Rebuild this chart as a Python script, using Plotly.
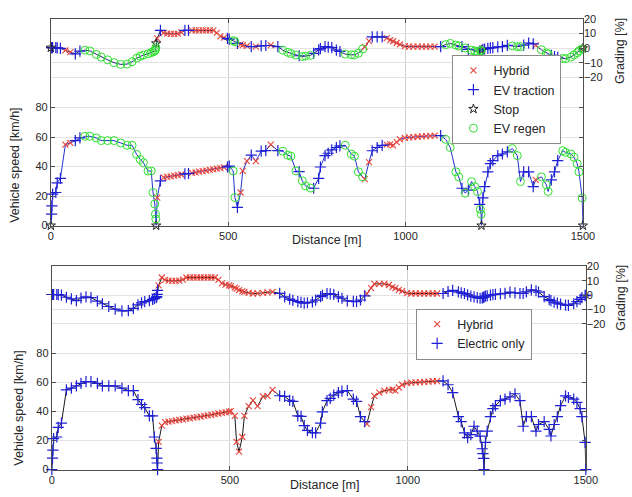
import plotly.graph_objects as go

# ---------------- data ----------------
distance = [0, 2, 3, 5, 14, 18, 27, 41, 55, 69, 82, 96, 110, 128, 142, 160, 178, 197, 215, 229,
            242, 252, 261, 274, 283, 288, 293, 295, 296, 297, 300, 309, 318, 328, 338, 348, 358, 368,
            378, 388, 398, 408, 418, 428, 438, 448, 458, 468, 478, 488, 498, 503, 514, 519, 526, 535,
            541, 553, 565, 578, 593, 606, 620, 640, 654, 668, 677, 691, 700, 709, 718, 732, 741, 755,
            760, 773, 782, 792, 805, 815, 830, 847, 856, 867, 879, 885, 897, 906, 920, 934, 947, 957,
            965, 975, 984, 998, 1010, 1022, 1034, 1046, 1058, 1070, 1082, 1099, 1113, 1126, 1142,
            1150, 1159, 1168, 1177, 1186, 1195, 1203, 1209, 1211, 1213, 1214, 1218, 1223, 1232, 1239,
            1246, 1260, 1273, 1287, 1301, 1315, 1324, 1333, 1347, 1360, 1367, 1383, 1397, 1402, 1411,
            1420, 1429, 1443, 1451, 1466, 1475, 1484, 1489, 1498, 1500]
speed = [0.0, 7.8, 13.4, 21.3, 22.4, 29.0, 32.0, 54.9, 56.0, 57.6, 59.4, 60.5, 60.5, 59.4, 57.6,
         57.6, 57.6, 56.0, 54.4, 54.4, 48.2, 44.8, 42.6, 37.0, 37.0, 22.4, 14.6, 7.8, 4.5, 0.0, 19.0,
         30.3, 32.7, 33.0, 33.4, 33.8, 34.2, 34.6, 35.0, 35.3, 35.7, 36.1, 36.5, 36.9, 37.3, 37.7,
         38.1, 38.6, 39.0, 39.4, 39.8, 40.3, 37.0, 19.0, 12.3, 22.4, 37.0, 43.7, 47.7, 43.7, 50.4,
         50.8, 54.9, 50.8, 50.4, 47.7, 47.0, 37.0, 36.6, 30.3, 26.9, 25.4, 25.3, 32.0, 39.7, 47.4,
         49.0, 51.3, 52.9, 54.0, 54.4, 48.5, 47.0, 36.4, 33.0, 31.5, 43.0, 50.7, 52.9, 54.4, 54.8,
         55.0, 54.4, 56.5, 58.4, 59.5, 59.8, 60.0, 60.2, 60.4, 60.6, 60.8, 60.9, 61.0, 58.4, 52.9,
         36.4, 33.0, 25.3, 22.0, 24.0, 29.8, 26.4, 23.0, 14.3, 11.0, 7.7, 0.0, 18.7, 26.4, 36.4,
         42.0, 44.0, 47.4, 48.5, 50.0, 52.2, 47.4, 29.8, 36.4, 36.4, 26.4, 31.0, 33.0, 27.6, 23.1,
         31.0, 36.4, 44.0, 50.7, 49.6, 48.5, 46.3, 41.9, 36.4, 18.7, 0.0]
grading = [0.4, 0.4, 0.4, 0.4, 0.4, 0.3, 0.0, -1.5, -2.6, -3.8, -2.0, -1.3, -1.8, -4.2, -6.0, -7.9,
           -9.8, -11.0, -10.8, -9.2, -6.8, -5.4, -4.6, -3.8, -3.0, -2.4, -1.8, -1.0, 0.5, 3.3, 6.7,
           12.2, 10.5, 10.0, 9.8, 9.9, 10.0, 10.8, 12.2, 12.2, 12.2, 12.2, 12.2, 12.2, 12.2, 12.2,
           12.2, 10.5, 8.2, 7.2, 6.7, 6.2, 5.2, 4.5, 3.4, 2.6, 2.2, 1.6, 1.1, 1.2, 1.6, 1.9, 2.2,
           1.2, -1.3, -2.8, -3.6, -4.6, -5.1, -5.6, -5.3, -4.8, -3.5, -1.1, -0.2, 1.1, 0.8, 0.4,
           -1.2, -2.2, -4.0, -4.4, -4.5, -3.4, -0.5, 1.0, 4.9, 7.8, 7.8, 7.8, 7.0, 5.6, 4.8, 3.6,
           2.7, 1.3, 1.1, 1.1, 1.1, 1.1, 1.1, 1.1, 1.1, 1.1, 2.5, 3.3, 2.2, 1.6, 1.1, 0.2, -0.7,
           -1.3, -1.8, -2.2, -2.0, -1.8, -1.5, -1.2, -0.7, -0.5, 0.0, 0.3, 0.5, 0.9, 1.2, 2.0, 1.6,
           1.1, 1.1, 2.2, 3.6, 3.0, 2.0, -1.0, -3.2, -3.8, -4.9, -5.6, -6.2, -6.9, -7.1, -6.0, -4.5,
           -3.0, -1.8, -0.3, 0.0]
# operating mode per point, upper chart: H hybrid, E EV traction, S stop, R EV regen
mode_top = (["S"] + ["E"] * 6 + ["H"] * 2 + ["E"] * 2 + ["R"] * 18 + ["S"]      # 0 .. 297
            + ["H", "E"] + ["H"] * 6 + ["E"] * 2 + ["H"] * 10 + ["E"] * 2          # 300 .. 503
            + ["R"] * 2 + ["E"] + ["H"] * 3 + ["E", "H", "E", "E", "H", "E"]       # 514 .. 640
            + ["R"] * 4 + ["E"] + ["R"] * 3 + ["E"] * 8 + ["R"] * 5                # 654 .. 879
            + ["H"] * 2 + ["E"] * 3 + ["H"] * 13 + ["E"]                           # 885 .. 1099
            + ["R"] * 4 + ["E", "R", "E"] + ["R"] * 3 + ["E"] + ["R"] * 2 + ["S"]   # 1113 .. 1214
            + ["E"] * 8 + ["R"] * 3 + ["E"] * 3 + ["H"] + ["R"] * 3 + ["E"] * 3     # 1218 .. 1429
            + ["R"] * 7 + ["S"])                                                   # 1443 .. 1500
# lower chart: H hybrid, E electric only
mode_bottom = ["H" if (300 <= d <= 620 or 885 <= d <= 1082) else "E" for d in distance]

top_names = {"H": "Hybrid", "E": "EV traction", "S": "Stop", "R": "EV regen"}
bottom_names = {"H": "Hybrid", "E": "Electric only"}

# ---------------- styles ----------------
RED = "#e8453c"
BLUE = "#1f1fd6"
GREEN = "#30e030"
styles = {
    "H": dict(symbol="x-thin-open", size=6, color=RED, line=dict(width=1.1, color=RED)),
    "E": dict(symbol="cross-thin-open", size=8, color=BLUE, line=dict(width=1.2, color=BLUE)),
    "S": dict(symbol="star-open", size=7, color="#222222", line=dict(width=1, color="#222222")),
    "R": dict(symbol="circle-open", size=8, color=GREEN, line=dict(width=1, color=GREEN)),
}

W, H = 632, 497
def px(x):
    return x / W
def py(y):
    return 1 - y / H

fig = go.Figure()

def add_panel(modes, names, xa, ys, yg, legend, line_speed, line_grad, order):
    fig.add_trace(go.Scatter(x=distance, y=speed, mode="lines", line=dict(color=line_speed, width=1),
                             xaxis=xa, yaxis=ys, showlegend=False, hoverinfo="skip"))
    fig.add_trace(go.Scatter(x=distance, y=grading, mode="lines", line=dict(color=line_grad, width=1),
                             xaxis=xa, yaxis=yg, showlegend=False, hoverinfo="skip"))
    for m in order:
        xs = [d for d, mm in zip(distance, modes) if mm == m]
        vs = [v for v, mm in zip(speed, modes) if mm == m]
        gs = [g for g, mm in zip(grading, modes) if mm == m]
        fig.add_trace(go.Scatter(x=xs, y=gs, mode="markers", marker=styles[m], xaxis=xa, yaxis=yg,
                                 name=names[m], legend=legend, legendgroup=legend + m,
                                 showlegend=True, cliponaxis=False))
        fig.add_trace(go.Scatter(x=xs, y=vs, mode="markers", marker=styles[m], xaxis=xa, yaxis=ys,
                                 name=names[m], legend=legend, legendgroup=legend + m,
                                 showlegend=False, cliponaxis=False))

add_panel(mode_top, top_names, "x", "y", "y2", "legend", "#2233cc", "#1c2470", ["H", "E", "S", "R"])
add_panel(mode_bottom, bottom_names, "x2", "y3", "y4", "legend2", "#1a1a1a", "#1a1a1a", ["H", "E"])

FONT = "Liberation Sans, Arial, sans-serif"
TXT = "#262626"
GRID = "#e3e3e3"
AX = "#4d4d4d"

xcommon = dict(range=[0, 1500], tickvals=[0, 500, 1000, 1500], showgrid=True, gridcolor="#cfcfcf",
               zeroline=False, showline=True, linecolor=AX, linewidth=1, mirror="ticks",
               ticks="inside", ticklen=4, tickcolor=AX, tickfont=dict(size=11, color=TXT))
scommon = dict(range=[0, 140], tickvals=[0, 20, 40, 60, 80], showgrid=True, gridcolor=GRID,
               zeroline=False, showline=True, linecolor=AX, linewidth=1, mirror="ticks",
               ticks="inside", ticklen=4, tickcolor=AX, tickfont=dict(size=11, color=TXT))
gcommon = dict(range=[-121, 20], tickvals=[-20, -10, 0, 10, 20], showgrid=True, gridcolor=GRID,
               zeroline=False, showline=False, side="right", ticks="inside", ticklen=4,
               tickcolor=AX, tickfont=dict(size=11, color=TXT))

fig.update_layout(
    width=W, height=H, margin=dict(l=0, r=0, t=0, b=0),
    paper_bgcolor="white", plot_bgcolor="white",
    font=dict(family=FONT, color=TXT),
    xaxis=dict(domain=[px(49), px(594)], anchor="y", **xcommon),
    yaxis=dict(domain=[py(225), py(13.3)], anchor="x", **scommon),
    yaxis2=dict(overlaying="y", anchor="x", **gcommon),
    xaxis2=dict(domain=[px(50), px(597)], anchor="y3", **xcommon),
    yaxis3=dict(domain=[py(475), py(266.7)], anchor="x2", **scommon),
    yaxis4=dict(overlaying="y3", anchor="x2", **gcommon),
    legend=dict(x=px(572), xanchor="right", y=py(50), yanchor="top", bgcolor="white",
                bordercolor="#8a8a8a", borderwidth=1, font=dict(size=12.5, color=TXT),
                tracegroupgap=0, itemwidth=30),
    legend2=dict(x=px(542), xanchor="right", y=py(310), yanchor="top", bgcolor="white",
                 bordercolor="#8a8a8a", borderwidth=1, font=dict(size=12.5, color=TXT),
                 tracegroupgap=0, itemwidth=30),
)

ann = [
    ("Vehicle speed [km/h]", 12, 163, -90),
    ("Vehicle speed [km/h]", 16, 412, -90),
    ("Grading [%]", 632, 46, -90),
    ("Grading [%]", 633, 299, -90),
    ("Distance [m]", 331, 240, 0),
    ("Distance [m]", 329, 491, 0),
]
for text, x, y, ang in ann:
    fig.add_annotation(text=text, x=px(x), y=py(y), xref="paper", yref="paper", showarrow=False,
                       textangle=ang, font=dict(size=12.5, color=TXT, family=FONT),
                       xanchor="center", yanchor="middle")

fig.write_html("out.html")
